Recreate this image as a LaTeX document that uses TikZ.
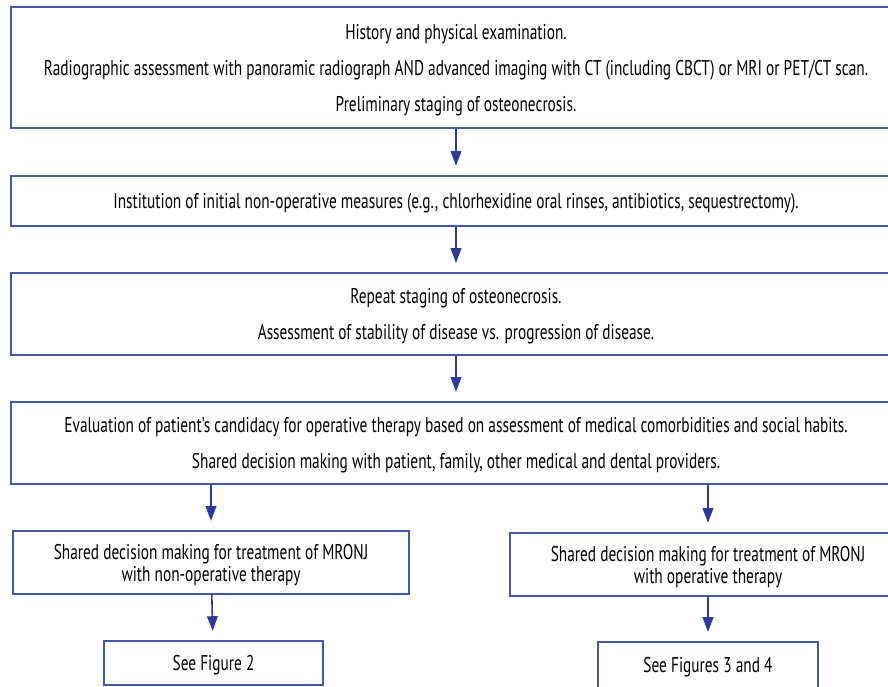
\documentclass[tikz,border=0pt]{standalone}
\usepackage{fontspec}
\setmainfont{PT Sans}[FakeStretch=0.72]
\usetikzlibrary{arrows.meta}

\definecolor{boxblue}{RGB}{70,86,170}
\definecolor{arrowblue}{RGB}{42,58,150}

\tikzset{every picture/.style={line width=0.75pt}}
\tikzset{
	flowbox/.style={draw=boxblue, line width=1.2pt, inner sep=0pt, align=center, text=black, text depth=-3.5pt, font=\fontsize{16pt}{27pt}\selectfont},
	smallbox/.style={flowbox, font=\fontsize{16pt}{16.5pt}\selectfont},
	flowarrow/.style={draw=arrowblue, line width=1.2pt, -{Triangle[width=8pt,length=11pt]}, fill=arrowblue, shorten >=7pt}
}

\begin{document}
\begin{tikzpicture}[x=0.75pt,y=0.75pt,yscale=-1,xscale=1]
	\useasboundingbox (0,0) rectangle (888,686);

	% Text Node
	\node [flowbox, minimum width=667.5pt, minimum height=90.75pt] (hist) at (456,67.5) {History and physical examination.\\Radiographic assessment with panoramic radiograph AND advanced imaging with CT (including CBCT) or MRI or PET/CT scan.\\Preliminary staging of osteonecrosis.};
	% Text Node
	\node [flowbox, minimum width=667.5pt, minimum height=37.5pt] (init) at (456,201) {Institution of initial non-operative measures (e.g., chlorhexidine oral rinses, antibiotics, sequestrectomy).};
	% Text Node
	\node [flowbox, minimum width=667.5pt, minimum height=61.5pt] (stage) at (456,314) {Repeat staging of osteonecrosis.\\Assessment of stability of disease vs. progression of disease.};
	% Text Node
	\node [flowbox, minimum width=667.5pt, minimum height=61.5pt] (eval) at (456,443) {Evaluation of patient’s candidacy for operative therapy based on assessment of medical comorbidities and social habits.\\Shared decision making with patient, family, other medical and dental providers.};
	% Text Node
	\node [smallbox, minimum width=297pt, minimum height=47.25pt] (nonop) at (211,562.5) {Shared decision making for treatment of MRONJ\\with non-operative therapy};
	% Text Node
	\node [smallbox, minimum width=297pt, minimum height=47.25pt] (oper) at (708,564.5) {Shared decision making for treatment of MRONJ\\with operative therapy};
	% Text Node
	\node [smallbox, minimum width=164.25pt, minimum height=33pt] (figtwo) at (213.5,663) {See Figure 2};
	% Text Node
	\node [smallbox, minimum width=165pt, minimum height=34.5pt] (figthree) at (708,665) {See Figures 3 and 4};

	%Straight Lines
	\draw [flowarrow] (hist) -- (init);
	\draw [flowarrow] (init) -- (stage);
	\draw [flowarrow] (stage) -- (eval);
	\draw [flowarrow] (eval.south -| nonop.north) -- (nonop.north);
	\draw [flowarrow] (eval.south -| oper.north) -- (oper.north);
	\draw [flowarrow] (nonop) -- (figtwo);
	\draw [flowarrow] (oper) -- (figthree);

\end{tikzpicture}
\end{document}
